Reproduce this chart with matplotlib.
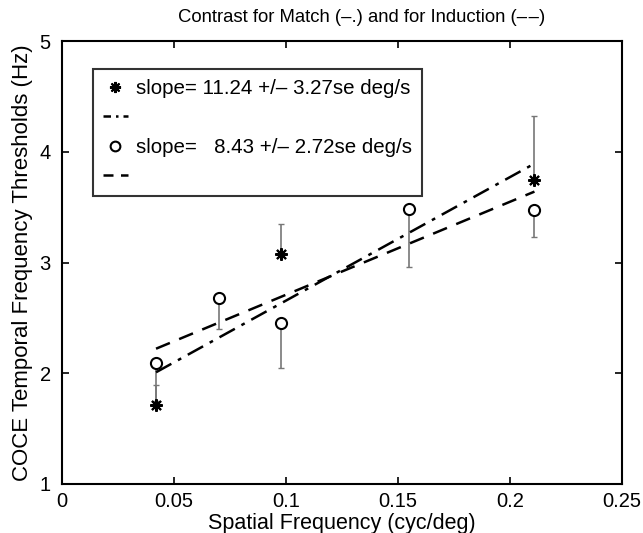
import matplotlib
matplotlib.use('Agg')
import matplotlib.pyplot as plt
from matplotlib.lines import Line2D
import numpy as np

plt.rcParams['font.family'] = ['Liberation Sans', 'DejaVu Sans']

# 匹配 (match) 数据：星号
match_x = [0.042, 0.098, 0.211]
match_y = [1.71, 3.08, 3.745]
match_up = [1.89, 3.35, 4.32]   # 误差线上端

# 诱导 (induction) 数据：圆圈
ind_x = [0.042, 0.070, 0.098, 0.155, 0.211]
ind_y = [2.09, 2.68, 2.456, 3.48, 3.474]
ind_low = [1.75, 2.40, 2.045, 2.96, 3.23]  # 误差线下端

labels = ['slope= 11.24 +/\u2013 3.27se deg/s', 'slope=   8.43 +/\u2013 2.72se deg/s']

fig = plt.figure(figsize=(6.43, 5.33), dpi=100)
ax = fig.add_axes([0.0964, 0.092, 0.8706, 0.831])

mx, my = np.array(match_x), np.array(match_y)
ix, iy = np.array(ind_x), np.array(ind_y)

# 单侧误差线
ax.errorbar(mx, my, yerr=[np.zeros(len(mx)), np.array(match_up) - my], fmt='none',
            ecolor='#777777', elinewidth=1.2, capsize=2, capthick=1)
ax.errorbar(ix, iy, yerr=[iy - np.array(ind_low), np.zeros(len(ix))], fmt='none',
            ecolor='#777777', elinewidth=1.2, capsize=2, capthick=1)

# 拟合直线
pm = np.polyfit(mx, my, 1)
pi = np.polyfit(ix, iy, 1)
xm = np.array([mx.min(), mx.max()])
xi = np.array([ix.min(), ix.max()])
ax.plot(xm, np.polyval(pm, xm), color='black', lw=1.8, dashes=[7, 3, 1.5, 3])
ax.plot(xi, np.polyval(pi, xi), color='black', lw=1.8, dashes=[6, 4])

star = (8, 2, 0)
ax.plot(mx, my, linestyle='none', marker=star, ms=9, mec='black', mew=1.5)
ax.plot(ix, iy, linestyle='none', marker='o', ms=8, mfc='white', mec='black', mew=1.5)

ax.set_xlim(0, 0.25)
ax.set_ylim(1, 5)
ax.set_xticks([0, 0.05, 0.1, 0.15, 0.2, 0.25])
ax.set_xticklabels(['0', '0.05', '0.1', '0.15', '0.2', '0.25'])
ax.set_yticks([1, 2, 3, 4, 5])
ax.tick_params(direction='in', top=True, right=True, length=5, width=1.2, labelsize=14.5)
ax.tick_params(axis='x', pad=6)
ax.tick_params(axis='y', pad=8)
for s in ax.spines.values():
    s.set_linewidth(1.5)

ax.set_xlabel('Spatial Frequency (cyc/deg)', fontsize=15.5, labelpad=1)
ax.set_ylabel('COCE Temporal Frequency Thresholds (Hz)', fontsize=16, labelpad=5)
ax.set_title('Contrast for Match (\u2013.) and for Induction (\u2013\u200a\u2013)', fontsize=13.3,
             pad=14, x=0.535)

# 图例（仿 MATLAB 风格）
h = [Line2D([], [], linestyle='none', marker=star, ms=8, mec='black', mew=1.5),
     Line2D([], [], color='black', lw=1.8, dashes=[3, 2, 1, 2]),
     Line2D([], [], linestyle='none', marker='o', ms=7, mfc='white', mec='black', mew=1.5),
     Line2D([], [], color='black', lw=1.8, dashes=[4, 3])]
leg = ax.legend(h, [labels[0], '', labels[1], ''], loc='upper left',
                bbox_to_anchor=(0.055, 0.937), fontsize=14.8, handlelength=1.2,
                handletextpad=0.4, labelspacing=0.5, frameon=True, fancybox=False,
                borderpad=0.5, borderaxespad=0)
leg.get_frame().set_edgecolor('black')
leg.get_frame().set_linewidth(1.5)

fig.savefig('out.png', dpi=100)
